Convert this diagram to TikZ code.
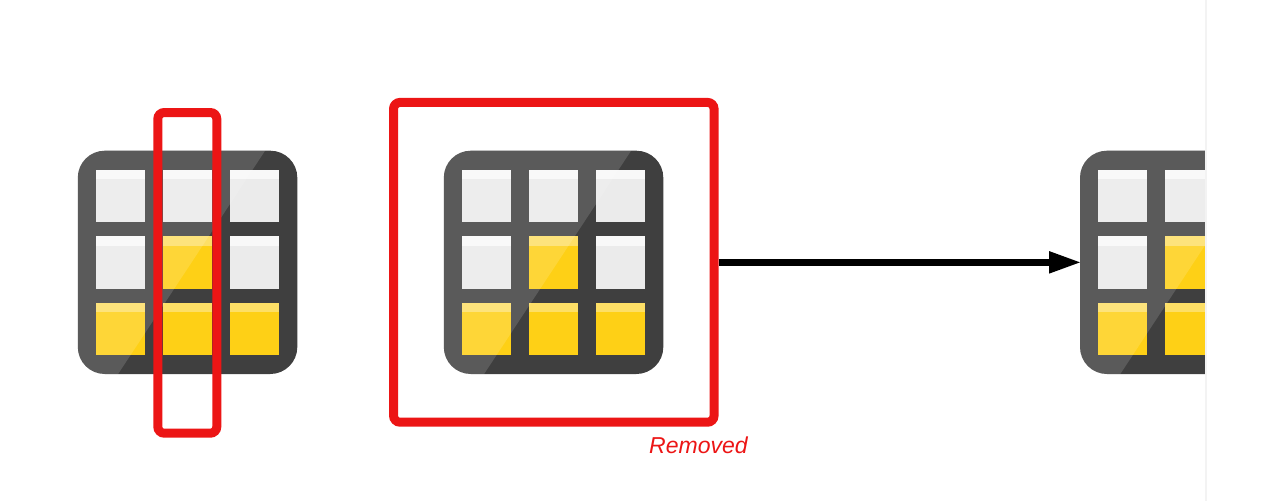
\documentclass[tikz,border=0pt]{standalone}
\usepackage{fontspec}
\setmainfont{Liberation Sans}
\usetikzlibrary{arrows.meta}
\definecolor{icondark}{HTML}{3F3F3F}
\definecolor{cellwhite}{HTML}{EBEBEB}
\definecolor{bandwhite}{HTML}{F8F8F8}
\definecolor{cellyellow}{HTML}{FED016}
\definecolor{bandyellow}{HTML}{FDDF66}
\definecolor{markred}{HTML}{EC1515}
\definecolor{panelline}{HTML}{F3F3F3}
\tikzset{
  iconbody/.style={fill=icondark,rounded corners=27pt,minimum width=219.5pt,minimum height=223.3pt,inner sep=0pt,outer sep=0pt},
  redbox/.style={draw=markred,line width=9pt,rounded corners=6.5pt,inner sep=0pt,fill=none},
  flow/.style={line width=7.6pt,shorten >=-2pt,-{Triangle[length=33pt,width=20pt]}},
  gloss/.style={fill=white,fill opacity=0.146}
}
\newcommand{\cellat}[4]{%
  \fill[#3] ({#1},{#2}) rectangle ++(49.3,52.7);
  \fill[#4] ({#1},{#2}) rectangle ++(49.3,9.6);
}
\newcommand{\iconat}[2]{%
  \node[iconbody] (#1) at ({#2+109.75},262.35) {};
  \def\X{#2}
  \cellat{\X+18}{169.5}{cellwhite}{bandwhite}
  \cellat{\X+85}{169.5}{cellwhite}{bandwhite}
  \cellat{\X+152.2}{169.5}{cellwhite}{bandwhite}
  \cellat{\X+18}{236}{cellwhite}{bandwhite}
  \cellat{\X+85}{236}{cellyellow}{bandyellow}
  \cellat{\X+152.2}{236}{cellwhite}{bandwhite}
  \cellat{\X+18}{302.5}{cellyellow}{bandyellow}
  \cellat{\X+85}{302.5}{cellyellow}{bandyellow}
  \cellat{\X+152.2}{302.5}{cellyellow}{bandyellow}
  \begin{scope}
    \clip[rounded corners=27pt] ({#2},150.7) rectangle ++(219.5,223.3);
    \fill[gloss] ({#2},150.7) -- ({#2+187.3},150.7) -- ({#2+40.3},374) -- ({#2},374) -- cycle;
  \end{scope}
}
\begin{document}
\begin{tikzpicture}[x=1pt,y=-1pt]
\useasboundingbox (0,0) rectangle (1280,501);
\iconat{tableA}{77.8}
\iconat{tableB}{443.8}
\begin{scope}
  \clip (1000,100) rectangle (1205,420);
  \iconat{tableC}{1080}
\end{scope}
\fill[panelline] (1205,0) rectangle (1207,501);
\node[redbox,minimum width=59pt,minimum height=320.7pt] (column) at (187.3,272.85) {};
\node[redbox,minimum width=320.5pt,minimum height=319.8pt] (removedbox) at (553.8,262.3) {};
\node[text=markred,anchor=base west,inner sep=0pt,font=\fontsize{23}{28}\selectfont\itshape] (removedlabel) at (649,453) {Removed};
\draw[flow] (removedbox.east |- tableC.west) -- (tableC.west);
\end{tikzpicture}
\end{document}
